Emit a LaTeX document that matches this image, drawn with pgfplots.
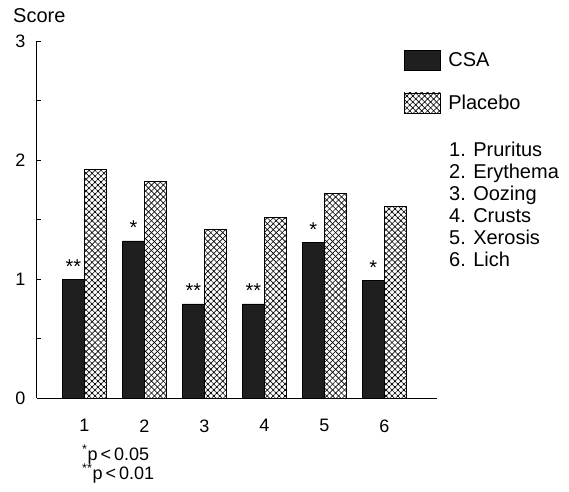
\documentclass[border=0pt]{standalone}
\usepackage{fontspec}
\setmainfont{Liberation Sans}
\usepackage{pgfplots}
\pgfplotsset{compat=1.18}
\usetikzlibrary{patterns.meta}
\newcommand\fs{\fontsize{20}{22}\selectfont}
\newcommand\ft{\fontsize{18}{20}\selectfont}
\newcommand\ff{\fontsize{18}{19}\selectfont}
\tikzset{placebo/.style={pattern={Lines[angle=45,distance=4.2pt,line width=0.65pt]},
  postaction={pattern={Lines[angle=-45,distance=4.2pt,line width=0.65pt]}}}}
\begin{document}
\begin{tikzpicture}
\useasboundingbox (0pt,0pt) rectangle (569pt,491pt);
\begin{axis}[
  at={(36.5pt,93pt)}, anchor=south west,
  scale only axis, width=400pt, height=357pt,
  xmin=0.2, xmax=6.87, ymin=0, ymax=3,
  axis lines*=left,
  axis line style={line width=0.8pt, -},
  xtick={1,2,3,4,5,6}, xtick style={draw=none},
  ytick={0,1,2,3}, minor ytick={0.5,1.5,2.5},
  tick align=inside, major tick length=4pt, minor tick length=4pt,
  tick style={line width=0.6pt, black},
  tick label style={font=\ft},
  /pgf/number format/assume math mode=true,
  yticklabel style={xshift=-7.5pt},
  xticklabel style={yshift=-14pt},
  ybar, bar width=22pt,
]
\addplot[fill=black!88, draw=black, bar shift=-11pt,
  nodes near coords, point meta=explicit symbolic,
  every node near coord/.append style={font=\fs, anchor=base, yshift=6pt}]
  coordinates {(1,1.00)[**] (2,1.32)[*] (3,0.79)[**] (4,0.79)[**] (5,1.31)[*] (6,0.99)[*]};
\addplot[placebo, draw=black, bar shift=11pt]
  coordinates {(1,1.92) (2,1.82) (3,1.42) (4,1.52) (5,1.72) (6,1.61)};
\end{axis}
\begin{axis}[
  at={(36.5pt,93pt)}, anchor=south west,
  scale only axis, width=400pt, height=357pt,
  xmin=0.2, xmax=6.87, ymin=0, ymax=3,
  hide axis,
  legend cell align=left,
  legend style={at={(0.918,0.975)}, anchor=north west, draw=none, fill=none,
    inner sep=0pt, row sep=22pt, column sep=8pt,
    nodes={inner sep=0pt, font=\fs}},
]
\addlegendimage{legend image code/.code={\draw[fill=black!88,draw=black] (0pt,-10pt) rectangle (36pt,10pt);}}
\addlegendentry{CSA}
\addlegendimage{legend image code/.code={\draw[placebo,draw=black] (0pt,-10pt) rectangle (36pt,10pt);}}
\addlegendentry{Placebo}
\end{axis}
\node[anchor=base west, inner sep=0pt, font=\fs] at (13pt,468pt) {Score};
\node[anchor=base west, inner sep=0pt, font=\fs] at (449pt,335pt) {1. Pruritus};
\node[anchor=base west, inner sep=0pt, font=\fs] at (449pt,313pt) {2. Erythema};
\node[anchor=base west, inner sep=0pt, font=\fs] at (449pt,291pt) {3. Oozing};
\node[anchor=base west, inner sep=0pt, font=\fs] at (449pt,269pt) {4. Crusts};
\node[anchor=base west, inner sep=0pt, font=\fs] at (449pt,247pt) {5. Xerosis};
\node[anchor=base west, inner sep=0pt, font=\fs] at (449pt,225pt) {6. Lich};
\node[anchor=base west, inner sep=0pt, font=\ff] at (82pt,31pt) {\textsuperscript{*}p\,<\,0.05};
\node[anchor=base west, inner sep=0pt, font=\ff] at (82pt,12pt) {\textsuperscript{**}p\,<\,0.01};
\end{tikzpicture}
\end{document}
